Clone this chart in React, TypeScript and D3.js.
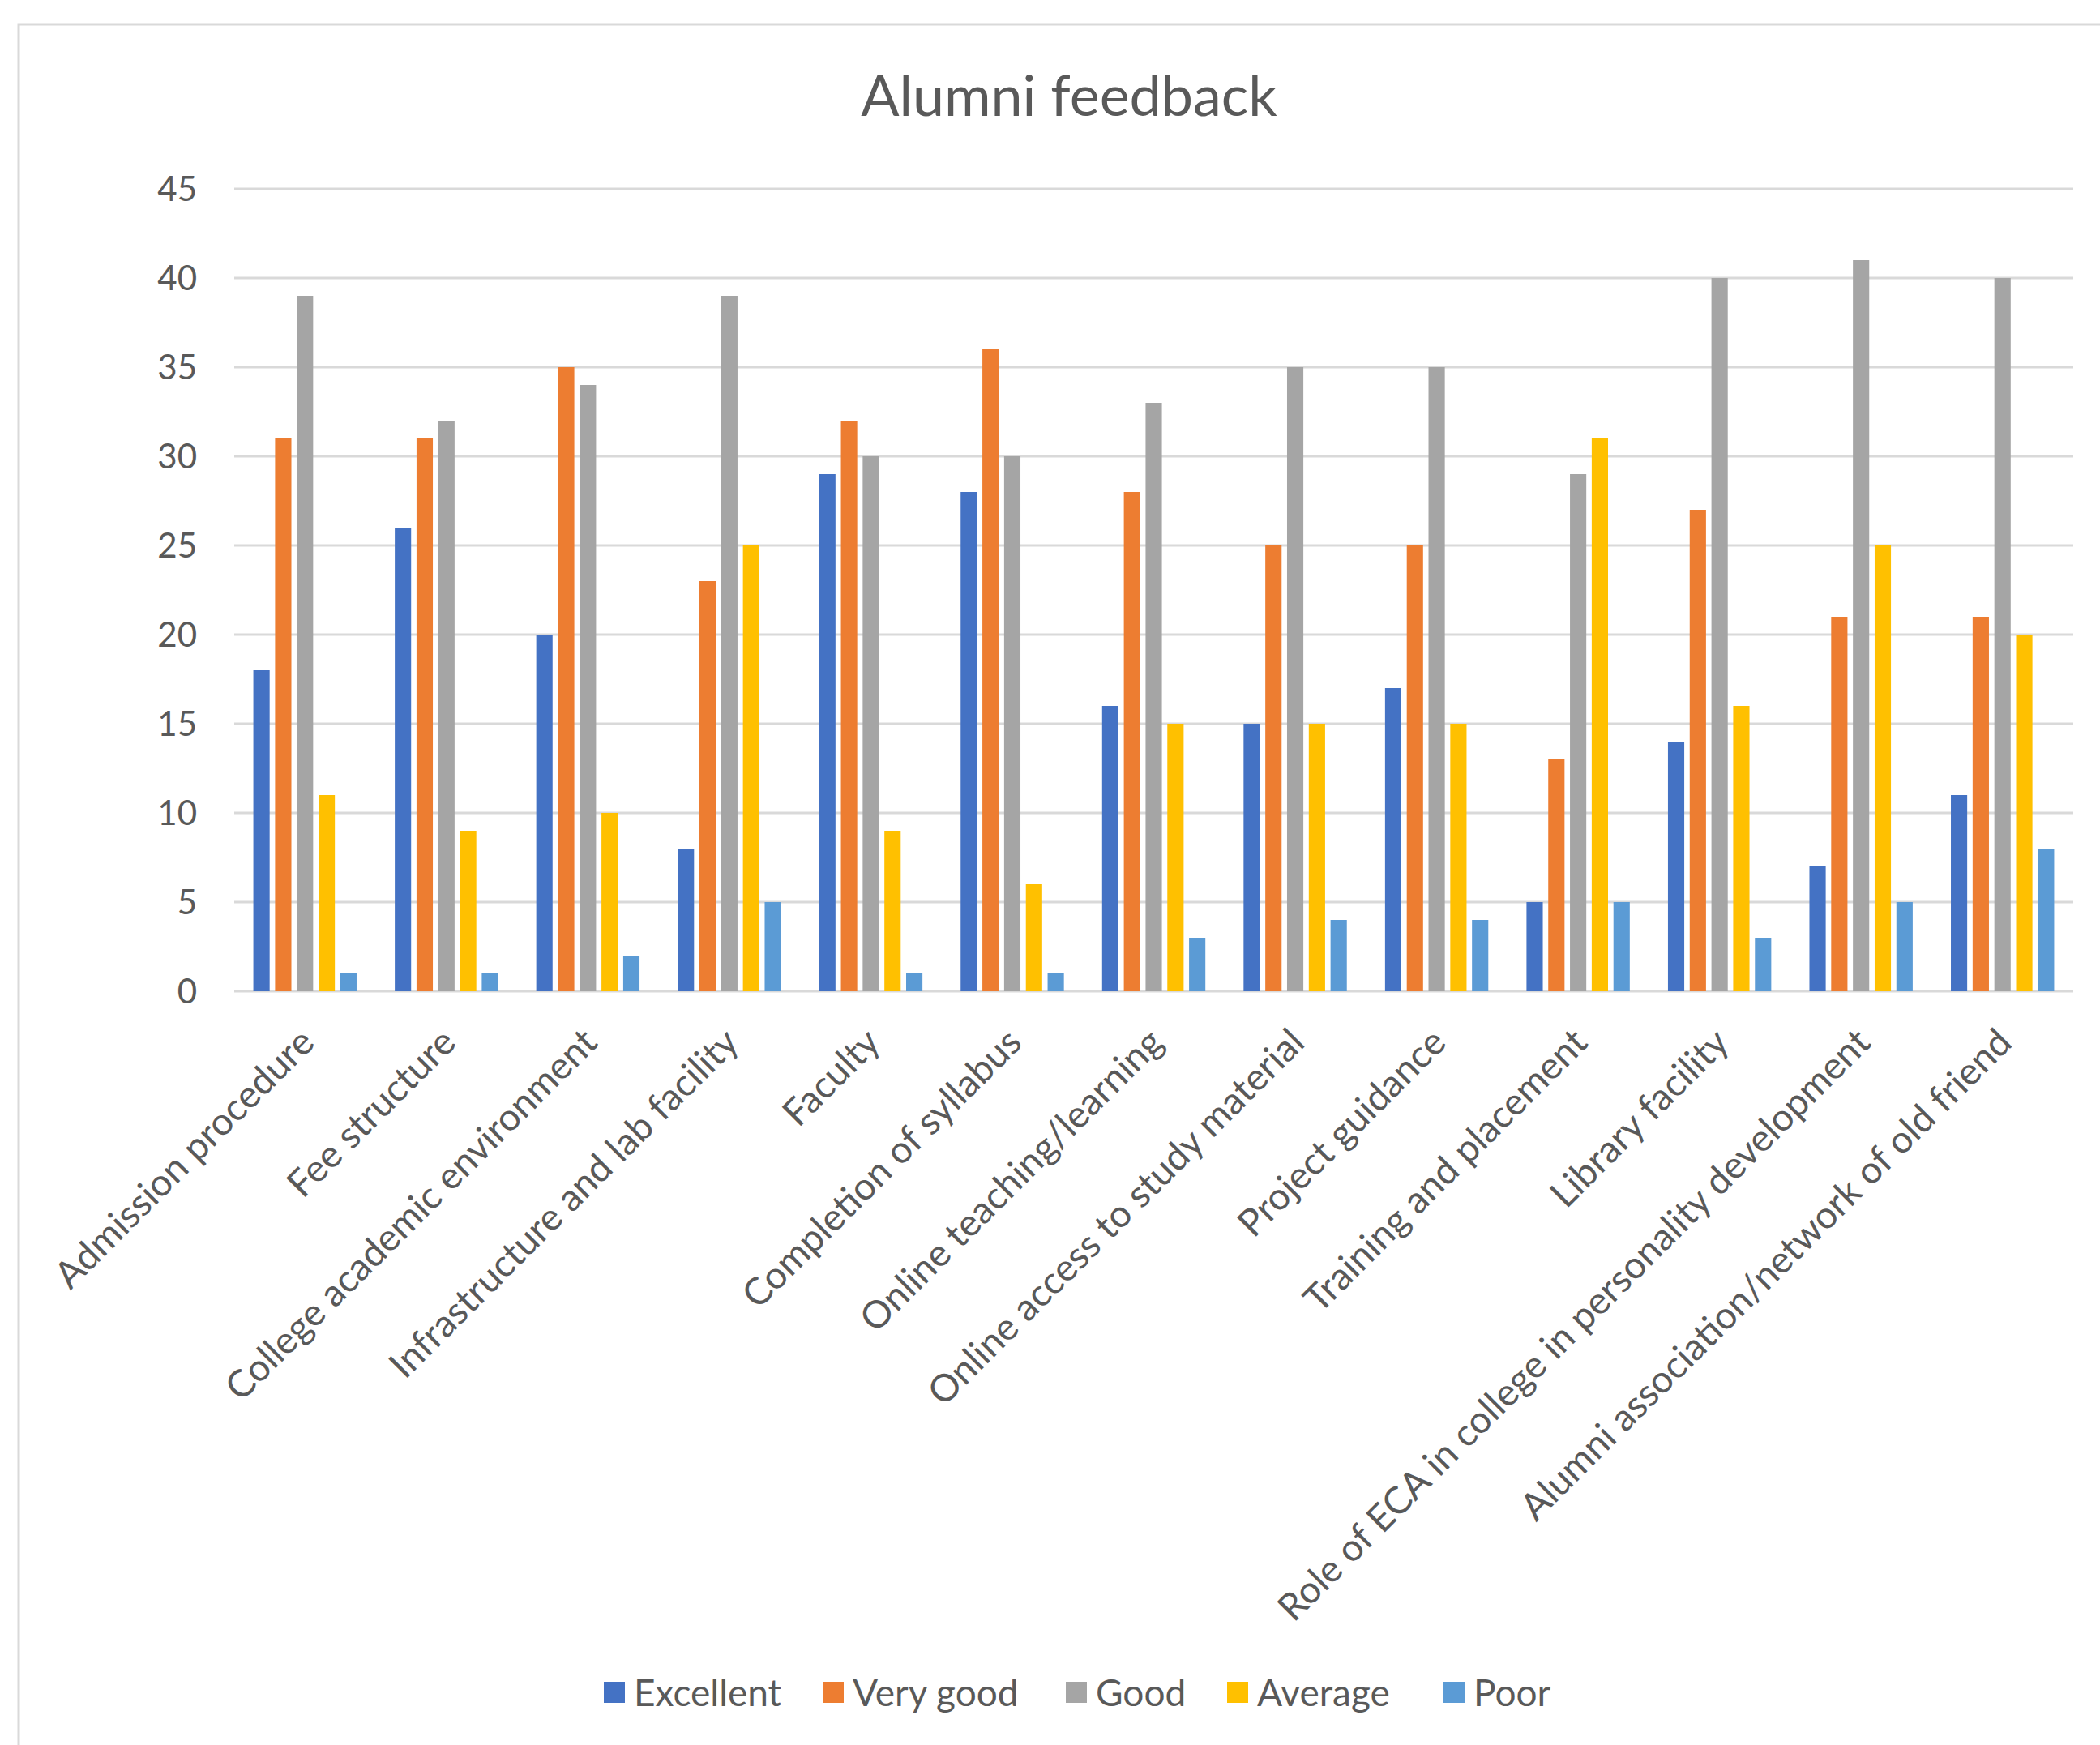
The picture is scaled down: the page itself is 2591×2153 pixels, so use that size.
import * as d3 from 'd3'
import React, { useEffect, useRef } from 'react'

const categories = [
    'Admission procedure',
    'Fee structure',
    'College academic environment',
    'Infrastructure and lab facility',
    'Faculty',
    'Completion of syllabus',
    'Online teaching/learning',
    'Online access to study material',
    'Project guidance',
    'Training and placement',
    'Library facility',
    'Role of ECA in college in personality development',
    'Alumni association/network of old friend',
]
const seriesNames = ['Excellent', 'Very good', 'Good', 'Average', 'Poor']
const excellent = [18, 26, 20, 8, 29, 28, 16, 15, 17, 5, 14, 7, 11]
const veryGood = [31, 31, 35, 23, 32, 36, 28, 25, 25, 13, 27, 21, 21]
const good = [39, 32, 34, 39, 30, 30, 33, 35, 35, 29, 40, 41, 40]
const average = [11, 9, 10, 25, 9, 6, 15, 15, 15, 31, 16, 25, 20]
const poor = [1, 1, 2, 5, 1, 1, 3, 4, 4, 5, 3, 5, 8]
const seriesColors = ['#4472C4', '#ED7D31', '#A5A5A5', '#FFC000', '#5B9BD5']
const yTicks = [0, 5, 10, 15, 20, 25, 30, 35, 40, 45]

const W = 2591
const H = 2153
const FONT = 'Lato, "Open Sans", sans-serif'

const App = (): JSX.Element => {
    const ref = useRef<SVGSVGElement>(null)

    useEffect(() => {
        document.body.style.margin = '0'
        document.body.style.overflow = 'hidden'

        const series = [excellent, veryGood, good, average, poor]
        const svg = d3.select(ref.current)
        svg.selectAll('*').remove()

        const left = 289
        const right = 2558
        const top = 233
        const bottom = 1223

        // chart frame (cut off at right and bottom like the screenshot)
        svg.append('rect')
            .attr('x', 23)
            .attr('y', 30)
            .attr('width', W)
            .attr('height', H)
            .attr('fill', '#fff')
            .attr('stroke', '#D9D9D9')
            .attr('stroke-width', 3)

        const x0 = d3.scaleBand().domain(categories).range([left, right]).paddingInner(0.27).paddingOuter(0.135)
        const x1 = d3
            .scaleBand()
            .domain(seriesNames)
            .range([0, x0.bandwidth()])
            .paddingInner(0.25)
        const y = d3.scaleLinear().domain([0, 45]).range([bottom, top])

        // gridlines
        svg.append('g')
            .selectAll('line')
            .data(yTicks)
            .enter()
            .append('line')
            .attr('x1', left)
            .attr('x2', right)
            .attr('y1', (d) => y(d))
            .attr('y2', (d) => y(d))
            .attr('stroke', '#D9D9D9')
            .attr('stroke-width', 3)

        // y labels
        svg.append('g')
            .selectAll('text')
            .data(yTicks)
            .enter()
            .append('text')
            .attr('x', 243)
            .attr('y', (d) => y(d))
            .attr('dy', '0.35em')
            .attr('text-anchor', 'end')
            .attr('font-family', FONT)
            .attr('font-size', 42)
            .attr('fill', '#595959')
            .text((d) => d)

        // bars
        const groups = svg
            .append('g')
            .selectAll('g')
            .data(categories)
            .enter()
            .append('g')
            .attr('transform', (d) => `translate(${x0(d)},0)`)

        groups
            .selectAll('rect')
            .data((d, i) => seriesNames.map((s, j) => ({ s, v: series[j][i], c: seriesColors[j] })))
            .enter()
            .append('rect')
            .attr('x', (d) => x1(d.s) as number)
            .attr('y', (d) => y(d.v))
            .attr('width', x1.bandwidth())
            .attr('height', (d) => y(0) - y(d.v))
            .attr('fill', (d) => d.c)

        // category labels
        svg.append('g')
            .selectAll('text')
            .data(categories)
            .enter()
            .append('text')
            .attr('transform', (d) => `translate(${(x0(d) as number) + x0.bandwidth() / 2 + 14},${bottom + 66}) rotate(-45)`)
            .attr('text-anchor', 'end')
            .attr('font-family', FONT)
            .attr('font-size', 46.5)
            .attr('fill', '#595959')
            .text((d) => d)

        // title
        svg.append('text')
            .attr('x', 1319)
            .attr('y', 143)
            .attr('text-anchor', 'middle')
            .attr('font-family', FONT)
            .attr('font-size', 70)
            .attr('fill', '#595959')
            .text('Alumni feedback')

        // legend
        const legendX = [745, 1015, 1315, 1514, 1781]
        const legend = svg
            .append('g')
            .selectAll('g')
            .data(seriesNames)
            .enter()
            .append('g')
            .attr('transform', (d, i) => `translate(${legendX[i]},2075)`)
        legend
            .append('rect')
            .attr('width', 26)
            .attr('height', 26)
            .attr('fill', (d, i) => seriesColors[i])
        legend
            .append('text')
            .attr('x', 37)
            .attr('y', 13)
            .attr('dy', '0.36em')
            .attr('font-family', FONT)
            .attr('font-size', 46)
            .attr('fill', '#595959')
            .text((d) => d)
    }, [])

    return <svg ref={ref} width={W} height={H} style={{ display: 'block', background: '#fff' }} />
}

export default App
